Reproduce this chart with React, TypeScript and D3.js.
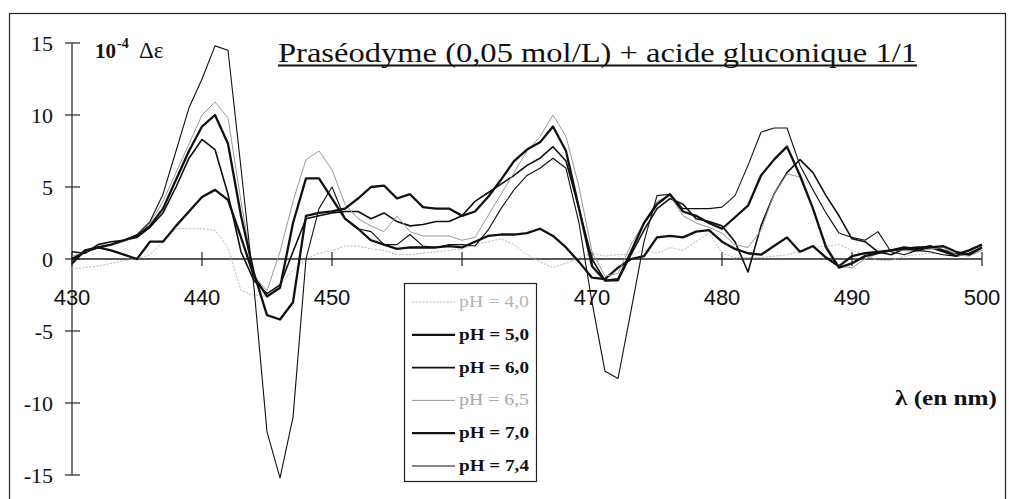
import React from 'react';
import * as d3 from 'd3';

// wavelength grid (nm)
const wavelengths = [
  430, 431, 432, 433, 434, 435, 436, 437, 438, 439,
  440, 441, 442, 443, 444, 445, 446, 447, 448, 449,
  450, 451, 452, 453, 454, 455, 456, 457, 458, 459,
  460, 461, 462, 463, 464, 465, 466, 467, 468, 469,
  470, 471, 472, 473, 474, 475, 476, 477, 478, 479,
  480, 481, 482, 483, 484, 485, 486, 487, 488, 489,
  490, 491, 492, 493, 494, 495, 496, 497, 498, 499, 500
];

// 10^-4 delta epsilon
const ph40 = [
  -0.7, -0.6, -0.5, -0.3, -0.1, 0.0, 0.3, 1.2, 2.1, 2.1,
  2.1, 2.0, 0.8, -2.2, -2.5, -2.6, -1.8, -0.8, 0.0, 0.4,
  0.6, 0.9, 0.9, 0.7, 0.6, 0.3, 0.3, 0.4, 0.5, 0.6,
  0.7, 1.0, 1.2, 1.4, 1.0, 0.3, -0.2, -0.6, -0.3, 0.1,
  0.4, 0.2, 0.3, 0.3, 0.6, 0.4, 0.8, 0.6, 1.2, 1.8,
  0.4, 0.1, 0.1, 0.1, 0.2, 0.3, 0.5, 0.8, 0.9, 1.0,
  0.6, 0.3, -0.1, -0.1, 0.2, 0.3, 0.4, 0.3, 0.2, 0.4, 0.6
];
const ph50 = [
  0.0, 0.5, 0.8, 0.6, 0.3, 0.0, 1.2, 1.2, 2.3, 3.3,
  4.3, 4.8, 4.1, 1.5, -1.2, -2.6, -2.0, 2.5, 5.6, 5.6,
  4.2, 2.8, 2.1, 1.3, 1.0, 0.7, 0.8, 0.8, 0.8, 0.9,
  0.8, 1.2, 1.6, 1.7, 1.7, 1.8, 2.1, 1.6, 0.8, -0.2,
  -1.3, -1.4, -0.6, 0.0, 0.2, 1.5, 1.6, 1.5, 1.9, 2.0,
  1.2, 0.7, 0.4, 0.3, 0.9, 1.5, 0.5, 0.9, 0.1, -0.5,
  0.2, 0.4, 0.5, 0.6, 0.8, 0.7, 0.9, 0.6, 0.3, 0.6, 1.0
];
const ph60 = [
  0.5, 0.4, 1.0, 1.2, 1.3, 1.5, 2.2, 3.2, 5.0, 7.0,
  8.3, 7.6, 4.5, 0.5, -1.5, -2.4, -1.8, 0.5, 2.8, 3.0,
  3.2, 3.3, 3.3, 2.8, 3.2, 2.6, 2.3, 2.4, 2.6, 2.6,
  3.0, 4.0, 4.6, 5.2, 5.8, 6.5, 7.0, 7.8, 6.8, 3.5,
  0.0, -1.5, -1.5, 0.3, 2.0, 3.5, 4.2, 3.8, 2.8, 2.6,
  2.3, 1.2, -0.9, 2.3, 4.5, 6.0, 6.9, 6.0, 4.4, 3.0,
  1.4, 1.2, 0.5, 0.3, 0.7, 0.6, 0.8, 0.5, 0.2, 0.4, 0.8
];
const ph65 = [
  0.2, 0.5, 0.8, 1.0, 1.2, 1.6, 2.5, 4.0, 6.0, 8.0,
  10.0, 10.9, 9.8, 4.0, -1.2, -2.2, 0.5, 4.0, 6.9, 7.5,
  6.2, 3.8, 2.8, 2.3, 1.9, 3.0, 1.9, 1.6, 1.6, 1.6,
  1.3, 1.5, 3.0, 4.5, 6.0, 7.5, 8.5, 10.0, 8.5, 5.0,
  0.5, -1.2, -1.0, 1.0, 2.5, 4.0, 4.4, 3.0, 2.5, 2.2,
  1.8, 1.0, 0.8, 2.0, 4.5, 5.9, 5.7, 3.5, 1.0, -0.5,
  -0.6, 0.0, 0.4, 0.6, 0.6, 0.5, 0.7, 0.8, 0.3, 0.2, 0.6
];
const ph70 = [
  -0.3, 0.6, 0.8, 1.0, 1.3, 1.6, 2.3, 3.5, 5.5, 7.5,
  9.2, 10.0, 8.0, 3.0, -1.0, -3.9, -4.2, -3.0, 3.0, 3.2,
  3.3, 3.5, 4.2, 5.0, 5.1, 4.2, 4.5, 3.6, 3.5, 3.5,
  3.0, 3.3, 4.3, 5.5, 6.8, 7.6, 8.1, 9.2, 7.5, 3.5,
  -0.5, -1.5, -1.4, 0.5, 2.5, 3.8, 4.5, 3.3, 3.0, 2.5,
  2.1, 2.9, 3.7, 5.8, 6.9, 7.8, 5.8, 3.5, 0.8, -0.6,
  -0.3, 0.2, 0.4, 0.6, 0.7, 0.8, 0.8, 0.9, 0.5, 0.3, 0.8
];
const ph74 = [
  0.0, 0.5, 0.8, 1.0, 1.3, 1.7, 2.6, 4.5, 7.5, 10.5,
  12.5, 14.8, 14.5, 6.3, -2.0, -12.0, -15.2, -11.0, 0.0, 3.5,
  5.0, 2.8, 2.1, 1.9, 1.0, 1.0, 1.7, 0.9, 0.8, 1.0,
  1.0, 0.9, 2.0, 3.5, 4.8, 5.8, 6.3, 7.0, 6.3, 2.5,
  -3.0, -7.8, -8.3, -3.6, 1.2, 4.4, 4.5, 3.5, 3.5, 3.5,
  3.6, 4.4, 6.5, 8.8, 9.1, 9.1, 6.5, 4.8, 3.2, 1.8,
  1.5, 1.3, 1.9, 0.5, 0.3, 0.6, 0.5, 0.3, 0.2, 0.6, 1.0
];

const seriesLabels = ['pH = 4,0', 'pH = 5,0', 'pH = 6,0', 'pH = 6,5', 'pH = 7,0', 'pH = 7,4'];
// 460 is hidden behind the legend in the original
const xTicks = [430, 440, 450, 460, 470, 480, 490, 500];
const xTickLabels = [430, 440, 450, 470, 480, 490, 500];
const yTicks = [15, 10, 5, 0, -5, -10, -15];

const serif = '"Liberation Serif", "Times New Roman", "DejaVu Serif", serif';
const sans = '"Liberation Sans", Arial, sans-serif';

const styles = [
  { color: '#b5b5b5', width: 1, dash: '2,1.5', text: '#b5b5b5', weight: 'normal' },
  { color: '#111', width: 2.3, dash: null, text: '#111', weight: 'bold' },
  { color: '#111', width: 1.6, dash: null, text: '#111', weight: 'bold' },
  { color: '#9a9a9a', width: 1, dash: null, text: '#a8a8a8', weight: 'normal' },
  { color: '#111', width: 2.3, dash: null, text: '#111', weight: 'bold' },
  { color: '#111', width: 1.1, dash: null, text: '#111', weight: 'bold' }
];

const App = () => {
  const allValues = [ph40, ph50, ph60, ph65, ph70, ph74];

  const xScale = d3.scaleLinear().domain([430, 500]).range([72, 982]);
  const yScale = d3.scaleLinear().domain([-15, 15]).range([475, 43]);

  const line = d3
    .line<number>()
    .x((d, i) => xScale(wavelengths[i]))
    .y(d => yScale(d));

  const legend = { x: 404, y: 283, w: 132, h: 198 };
  const serifStyle = { fontFamily: serif };
  const sansStyle = { fontFamily: sans };

  return (
    <svg
      width={1009}
      height={499}
      style={{ position: 'absolute', left: 0, top: 0, background: '#fff' }}
    >
      <rect x={0} y={0} width={1009} height={499} fill="#fff" />
      {/* outer frame */}
      <rect x={9.5} y={13.5} width={996} height={490} fill="none" stroke="#222" strokeWidth={1.2} />

      {/* title */}
      <text
        x={278}
        y={62}
        style={serifStyle}
        fontSize={27}
        textLength={639}
        lengthAdjust="spacingAndGlyphs"
        fill="#111"
      >
        Praséodyme (0,05 mol/L) + acide gluconique 1/1
      </text>
      <line x1={278} x2={917} y1={65.5} y2={65.5} stroke="#111" strokeWidth={1.8} />

      {/* y unit */}
      <text x={95} y={58} style={serifStyle} fontSize={21} fontWeight="bold" fill="#111">10</text>
      <text x={117} y={48} style={serifStyle} fontSize={14} fontWeight="bold" fill="#111">-4</text>
      <text x={139} y={58} style={serifStyle} fontSize={23} fill="#111">Δε</text>

      {/* x label */}
      <text
        x={895}
        y={405}
        style={serifStyle}
        fontSize={20}
        fontWeight="bold"
        textLength={102}
        lengthAdjust="spacingAndGlyphs"
        fill="#111"
      >
        λ  (en nm)
      </text>

      {/* y axis */}
      <line x1={72} x2={72} y1={yScale(15)} y2={yScale(-15)} stroke="#222" strokeWidth={1.2} />
      {yTicks.map(t => (
        <g key={'y' + t}>
          <line x1={65} x2={80} y1={yScale(t)} y2={yScale(t)} stroke="#222" strokeWidth={1.2} />
          <text
            x={53}
            y={yScale(t) + 8}
            textAnchor="end"
            style={serifStyle}
            fontSize={22}
            fill="#111"
          >
            {t}
          </text>
        </g>
      ))}

      {/* x axis */}
      <line x1={xScale(430)} x2={xScale(500)} y1={yScale(0)} y2={yScale(0)} stroke="#222" strokeWidth={1.4} />
      {xTicks.map(t => (
        <line
          key={'xt' + t}
          x1={xScale(t)}
          x2={xScale(t)}
          y1={yScale(0) - 7}
          y2={yScale(0) + 7}
          stroke="#222"
          strokeWidth={1.2}
        />
      ))}
      {xTickLabels.map(t => (
        <text
          key={'xl' + t}
          x={xScale(t)}
          y={305}
          textAnchor="middle"
          style={sansStyle}
          fontSize={22}
          fill="#111"
        >
          {t}
        </text>
      ))}

      {/* curves */}
      {allValues.map((vals, i) => (
        <path
          key={seriesLabels[i]}
          d={line(vals) || ''}
          fill="none"
          stroke={styles[i].color}
          strokeWidth={styles[i].width}
          strokeDasharray={styles[i].dash || undefined}
          strokeLinejoin="round"
        />
      ))}

      {/* legend */}
      <rect
        x={legend.x + 0.5}
        y={legend.y + 0.5}
        width={legend.w}
        height={legend.h}
        fill="#fff"
        stroke="#222"
        strokeWidth={1.2}
      />
      {seriesLabels.map((lab, i) => {
        const yy = legend.y + 19 + i * 32.8;
        return (
          <g key={'lg' + lab}>
            <line
              x1={412}
              x2={455}
              y1={yy}
              y2={yy}
              stroke={styles[i].color}
              strokeWidth={styles[i].width}
              strokeDasharray={styles[i].dash || undefined}
            />
            <text
              x={459}
              y={yy + 5}
              style={serifStyle}
              fontSize={16}
              fontWeight={styles[i].weight}
              fill={styles[i].text}
              textLength={70}
              lengthAdjust="spacingAndGlyphs"
            >
              {lab}
            </text>
          </g>
        );
      })}
    </svg>
  );
};

export default App;
